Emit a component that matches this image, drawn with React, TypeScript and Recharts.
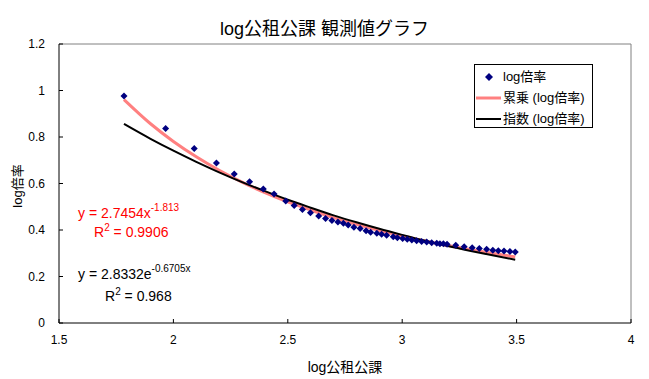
import React from "react";
import { ComposedChart, Scatter, Line, XAxis, YAxis, ReferenceLine } from "recharts";

// observed points (log公租公課, log倍率)
const obsX = [
  1.784, 1.966, 2.091, 2.188, 2.266, 2.333, 2.393, 2.44, 2.491, 2.528,
  2.564, 2.599, 2.635, 2.665, 2.693, 2.719, 2.743, 2.764, 2.789, 2.816,
  2.842, 2.862, 2.889, 2.91, 2.932, 2.961, 2.979, 3.002, 3.022, 3.042,
  3.063, 3.085, 3.107, 3.129, 3.151, 3.165, 3.18, 3.196, 3.234, 3.271,
  3.306, 3.337, 3.369, 3.396, 3.42, 3.445, 3.471, 3.494,
];
const obsY = [
  0.976, 0.837, 0.751, 0.688, 0.641, 0.608, 0.576, 0.555, 0.525, 0.505,
  0.488, 0.474, 0.46, 0.45, 0.441, 0.434, 0.429, 0.421, 0.412, 0.406,
  0.397, 0.39, 0.386, 0.382, 0.377, 0.371, 0.367, 0.363, 0.36, 0.357,
  0.354, 0.351, 0.348, 0.345, 0.343, 0.341, 0.341, 0.339, 0.334, 0.328,
  0.324, 0.32, 0.317, 0.313, 0.311, 0.31, 0.308, 0.305,
];

// trendlines
const fitX = [1.784, 1.9, 2.0, 2.1, 2.2, 2.3, 2.4, 2.5, 2.6, 2.7, 2.8, 2.9, 3.0, 3.1, 3.2, 3.3, 3.4, 3.494];
const powerY = [0.961, 0.857, 0.781, 0.715, 0.657, 0.606, 0.561, 0.521, 0.486, 0.453, 0.424, 0.398, 0.375, 0.353, 0.333, 0.315, 0.299, 0.284];
const expoY = [0.856, 0.792, 0.741, 0.693, 0.648, 0.606, 0.567, 0.53, 0.496, 0.463, 0.433, 0.405, 0.379, 0.354, 0.331, 0.31, 0.29, 0.272];

const xTicks = [1.5, 2, 2.5, 3, 3.5, 4];
const yTicks = [0, 0.2, 0.4, 0.6, 0.8, 1, 1.2];

const FONT = '"Liberation Sans", "Noto Sans CJK JP", sans-serif';
const NAVY = "#000080";
const PINK = "#FF8080";

const obsData = obsX.map((x, i) => ({ x, y: obsY[i] }));
const powerData = fitX.map((x, i) => ({ x, y: powerY[i] }));
const expoData = fitX.map((x, i) => ({ x, y: expoY[i] }));

function Diamond(props: any) {
  const { cx, cy } = props;
  if (cx == null || cy == null) return null;
  const r = 3.5;
  return <polygon points={`${cx},${cy - r} ${cx + r},${cy} ${cx},${cy + r} ${cx - r},${cy}`} fill={NAVY} />;
}

function abs(left: number, top: number, extra: React.CSSProperties = {}): React.CSSProperties {
  return { position: "absolute", left, top, whiteSpace: "nowrap", lineHeight: 1, ...extra };
}

function ChartLegend() {
  const row: React.CSSProperties = { display: "flex", alignItems: "center", height: 21 };
  return (
    <div style={abs(474, 64, { width: 119, height: 64, border: "1px solid #000", background: "#fff", fontSize: 13, boxSizing: "border-box", paddingTop: 1 })}>
      <div style={row}>
        <svg width={28} height={12}><polygon points="14,2 18,6 14,10 10,6" fill={NAVY} /></svg>
        <span>log倍率</span>
      </div>
      <div style={row}>
        <svg width={28} height={12}><line x1={1} y1={6} x2={26} y2={6} stroke={PINK} strokeWidth={3} /></svg>
        <span>累乗 (log倍率)</span>
      </div>
      <div style={row}>
        <svg width={28} height={12}><line x1={1} y1={6} x2={26} y2={6} stroke="#000" strokeWidth={2} /></svg>
        <span>指数 (log倍率)</span>
      </div>
    </div>
  );
}

export default function App() {
  return (
    <div style={{ position: "relative", width: 649, height: 379, fontFamily: FONT, background: "#fff" }}>
      <style>{"body{margin:0}"}</style>
      <ComposedChart width={649} height={379} margin={{ top: 44, right: 18, bottom: 26, left: 14 }}>
        <XAxis
          type="number"
          dataKey="x"
          domain={[1.5, 4]}
          ticks={xTicks}
          height={30}
          tickSize={-4}
          tickMargin={16}
          axisLine={{ stroke: "#000" }}
          tickLine={{ stroke: "#000" }}
          tick={{ fill: "#000", fontSize: 12, fontFamily: FONT }}
        />
        <YAxis
          type="number"
          dataKey="y"
          domain={[0, 1.2]}
          ticks={yTicks}
          width={45}
          tickSize={-4}
          tickMargin={18}
          axisLine={{ stroke: "#000" }}
          tickLine={{ stroke: "#000" }}
          tick={{ fill: "#000", fontSize: 12, fontFamily: FONT }}
        />
        <ReferenceLine y={1.2} stroke="#808080" />
        <ReferenceLine x={4} stroke="#808080" />
        <Scatter name="log倍率" data={obsData} shape={<Diamond />} isAnimationActive={false} />
        <Line name="累乗 (log倍率)" data={powerData} dataKey="y" type="monotone" stroke={PINK} strokeWidth={3} dot={false} isAnimationActive={false} />
        <Line name="指数 (log倍率)" data={expoData} dataKey="y" type="monotone" stroke="#000" strokeWidth={2} dot={false} isAnimationActive={false} />
      </ComposedChart>

      <div style={abs(0, 20, { width: 649, textAlign: "center", fontSize: 18 })}>log公租公課 観測値グラフ</div>
      <div style={abs(0, 360, { width: 690, textAlign: "center", fontSize: 14 })}>log公租公課</div>
      <div style={abs(17, 186, { fontSize: 13, transform: "translate(-50%, -50%) rotate(-90deg)" })}>log倍率</div>

      <ChartLegend />

      <div style={abs(78, 203, { fontSize: 14, color: "#FF0000" })}>
        y = 2.7454x<sup style={{ fontSize: 10, verticalAlign: 7 }}>-1.813</sup>
      </div>
      <div style={abs(94, 223, { fontSize: 14, color: "#FF0000" })}>
        R<sup style={{ fontSize: 10, verticalAlign: 6 }}>2</sup> = 0.9906
      </div>
      <div style={abs(78, 264, { fontSize: 14, color: "#000" })}>
        y = 2.8332e<sup style={{ fontSize: 10, verticalAlign: 7 }}>-0.6705x</sup>
      </div>
      <div style={abs(105, 287, { fontSize: 14, color: "#000" })}>
        R<sup style={{ fontSize: 10, verticalAlign: 6 }}>2</sup> = 0.968
      </div>
    </div>
  );
}
